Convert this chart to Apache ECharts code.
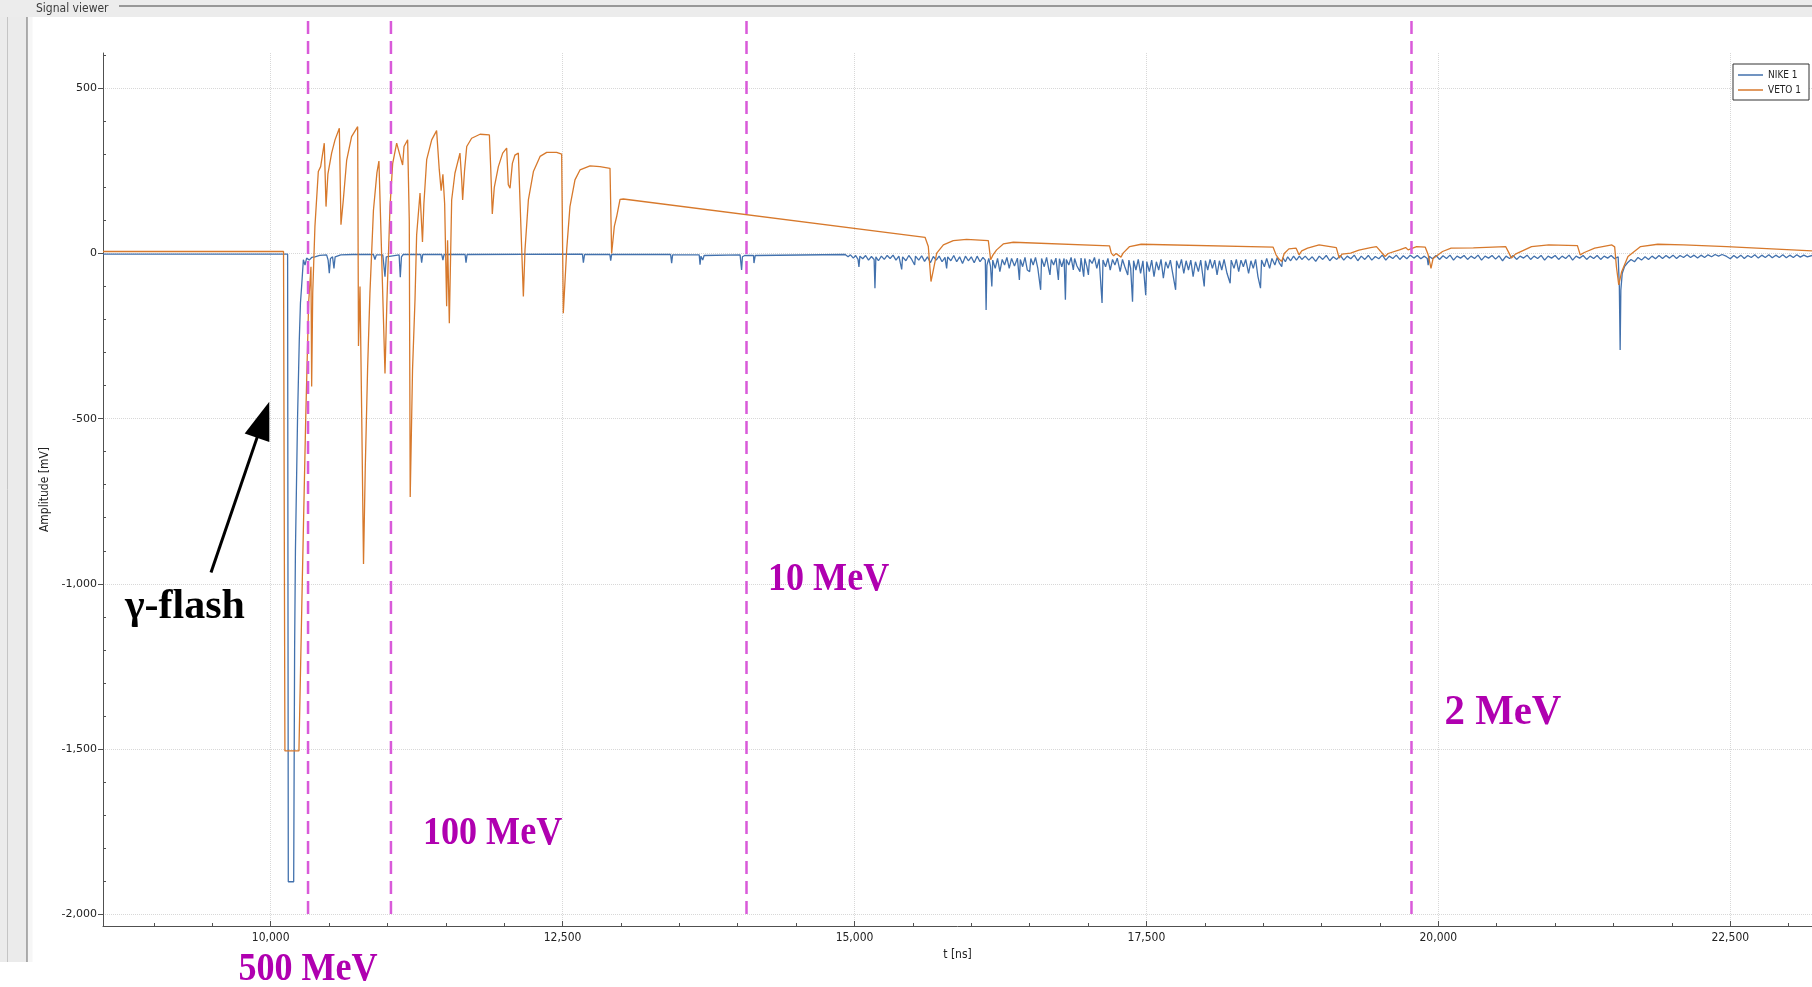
<!DOCTYPE html>
<html>
<head>
<meta charset="utf-8">
<title>Signal viewer</title>
<script src="https://cdn.jsdelivr.net/npm/echarts@6/dist/echarts.min.js"></script>
<style>
  html, body { margin: 0; padding: 0; background: #ffffff; }
  #chart { width: 1812px; height: 987px; }
</style>
</head>
<body>
<div id="chart"></div>
<script>
// ---- data -----------------------------------------------------------------
const seriesNames = ['NIKE 1', 'VETO 1'];
const timeRange = [8564, 23200];      // t [ns]
const ampRange = [-2036, 607];        // amplitude [mV]

// NIKE 1 trace: [t ns, amplitude mV]
const nike = [
  [8564,-2],[10145,-2],[10151,-1902],[10197,-1902],[10205,-1200],[10212,-900],[10230,-500],
  [10245,-262],[10255,-150],[10265,-100],[10280,-19],[10294,-35],[10308,-14],[10330,-20],
  [10351,-12],[10379,-10],[10420,-6],[10479,-4],[10492,-20],[10502,-60],[10512,-15],[10530,-10],
  [10542,-45],[10552,-10],[10600,-4],[10700,-3],[10880,-3],[10893,-18],[10905,-4],[10960,-4],
  [10979,-70],[10990,-10],[11000,-4],[11100,-4],[11110,-72],[11120,-10],[11135,-3],[11285,-3],
  [11293,-28],[11302,-3],[11465,-3],[11475,-20],[11485,-3],[11665,-3],[11673,-28],[11682,-3],
  [12670,-2],[12678,-28],[12688,-3],[12905,-3],[12912,-22],[12920,-3],[13425,-3],[13434,-29],
  [13442,-4],[13670,-4],[13677,-34],[13685,-8],[13700,-20],[13712,-6],[14020,-4],[14033,-50],
  [14040,-10],[14060,-6],[14135,-6],[14139,-29],[14150,-6],[14920,-3],
  [14945,-10],[14965,-4],[14990,-14],[15010,-6],[15030,-18],[15038,-41],[15046,-8],[15070,-16],
  [15095,-6],[15120,-20],[15145,-9],[15168,-18],[15175,-105],[15183,-10],[15205,-22],[15230,-8],
  [15255,-18],[15280,-6],[15305,-15],[15330,-5],[15355,-20],[15380,-8],[15404,-48],[15412,-10],
  [15440,-22],[15465,-6],[15490,-18],[15515,-35],[15522,-8],[15550,-20],[15575,-7],[15600,-24],
  [15625,-10],[15650,-28],[15675,-9],[15700,-20],[15725,-8],[15750,-25],[15775,-12],[15789,-45],
  [15798,-10],[15825,-22],[15850,-6],[15875,-25],[15900,-10],[15925,-30],[15950,-8],[15975,-22],
  [16000,-10],[16025,-28],[16050,-8],[16075,-25],[16100,-12],[16120,-20],[16127,-171],[16134,-35],
  [16150,-15],[16165,-40],[16176,-100],[16184,-20],[16205,-45],[16225,-15],[16245,-55],[16265,-18],
  [16285,-35],[16305,-12],[16325,-45],[16345,-15],[16370,-38],[16395,-14],[16412,-80],[16420,-18],
  [16440,-40],[16460,-12],[16480,-50],[16500,-55],[16510,-15],[16530,-35],[16550,-12],[16570,-45],
  [16594,-110],[16602,-15],[16625,-40],[16645,-12],[16665,-50],[16674,-65],[16685,-18],[16705,-35],
  [16725,-14],[16746,-80],[16755,-16],[16775,-40],[16795,-15],[16806,-140],[16814,-18],[16835,-35],
  [16855,-12],[16874,-50],[16885,-15],[16905,-38],[16931,-55],[16940,-14],[16963,-70],[16972,-15],
  [16990,-40],[17003,-65],[17012,-18],[17035,-30],[17055,-12],[17075,-45],[17095,-16],[17120,-150],
  [17128,-20],[17150,-40],[17170,-15],[17190,-50],[17210,-18],[17230,-35],[17250,-14],[17275,-55],
  [17295,-18],[17315,-40],[17340,-65],[17350,-20],[17365,-45],[17381,-146],[17390,-22],[17410,-50],
  [17430,-18],[17450,-60],[17470,-22],[17494,-126],[17503,-25],[17525,-55],[17545,-20],[17565,-70],
  [17585,-25],[17605,-50],[17625,-18],[17645,-75],[17665,-25],[17685,-45],[17705,-20],[17725,-60],
  [17750,-110],[17758,-22],[17780,-45],[17800,-18],[17820,-60],[17840,-22],[17860,-50],[17880,-20],
  [17900,-70],[17920,-25],[17945,-55],[17965,-20],[17995,-100],[18005,-22],[18025,-50],[18045,-18],
  [18065,-45],[18085,-20],[18105,-65],[18125,-22],[18145,-50],[18165,-18],[18190,-60],[18217,-90],
  [18226,-20],[18250,-45],[18270,-18],[18290,-55],[18310,-20],[18330,-40],[18350,-18],[18375,-60],
  [18395,-22],[18415,-45],[18435,-18],[18455,-70],[18477,-105],[18486,-20],[18510,-40],[18530,-15],
  [18555,-45],[18575,-15],[18600,-35],[18620,-12],[18640,-30],[18659,-40],[18668,-12],[18690,-25],
  [18710,-10],[18735,-22],[18760,-8],[18785,-20],[18810,-8],[18831,-18],
  [18860,-8],[18890,-20],[18920,-10],[18950,-24],[18980,-8],[19010,-18],[19040,-6],[19070,-22],
  [19100,-10],[19130,-18],[19160,-6],[19190,-20],[19220,-8],[19250,-16],[19280,-5],[19310,-22],
  [19340,-8],[19370,-18],[19400,-6],[19430,-20],[19460,-9],[19490,-16],[19520,-5],[19550,-20],
  [19580,-8],[19610,-15],[19640,-5],[19670,-18],[19700,-7],[19730,-16],[19760,-5],[19790,-14],
  [19820,-6],[19850,-16],[19880,-8],[19905,-15],[19913,-35],[19922,-8],[19950,-16],[19980,-6],
  [20010,-18],[20040,-7],[20070,-15],[20100,-5],[20130,-20],[20160,-8],[20190,-14],[20220,-6],
  [20250,-18],[20280,-8],[20310,-15],[20340,-5],[20370,-20],[20400,-8],[20430,-14],[20460,-6],
  [20490,-17],[20520,-7],[20550,-22],[20580,-8],[20610,-15],[20640,-6],[20670,-18],[20700,-8],
  [20730,-14],[20760,-5],[20790,-18],[20820,-8],[20850,-15],[20880,-6],[20910,-20],[20940,-8],
  [20970,-14],[21000,-6],[21030,-18],[21060,-8],[21090,-15],[21120,-5],[21150,-20],[21180,-8],
  [21210,-14],[21240,-6],[21270,-18],[21300,-8],[21330,-15],[21360,-6],[21390,-18],[21420,-8],
  [21450,-14],[21480,-6],[21510,-16],[21540,-10],[21550,-100],[21557,-292],[21563,-110],[21575,-60],
  [21594,-40],[21620,-28],[21650,-18],[21680,-25],[21710,-12],[21740,-20],[21770,-10],[21800,-18],
  [21830,-8],[21860,-16],[21890,-6],[21920,-15],[21950,-6],[21980,-14],[22010,-5],[22040,-15],
  [22070,-6],[22100,-12],[22130,-4],[22160,-12],[22190,-5],[22220,-14],[22250,-5],[22280,-12],
  [22310,-4],[22340,-10],[22370,-3],[22400,-8],[22430,-3],[22469,-9],[22500,-16],[22530,-6],
  [22560,-14],[22590,-5],[22620,-15],[22650,-6],[22680,-12],[22710,-4],[22740,-14],[22770,-5],
  [22800,-12],[22830,-4],[22860,-13],[22890,-5],[22920,-12],[22950,-4],[22980,-13],[23010,-5],
  [23040,-12],[23070,-4],[23100,-11],[23130,-5],[23160,-10],[23200,-6]
];

// VETO 1 trace: [t ns, amplitude mV]
const veto = [
  [8564,6],[10110,6],[10122,-1506],[10242,-1506],[10271,-988],[10300,-500],[10325,-150],[10345,-40],
  [10351,-403],[10360,-120],[10379,82],[10408,248],[10428,263],[10459,334],[10474,142],[10490,240],
  [10522,304],[10551,344],[10588,379],[10602,87],[10622,162],[10651,283],[10693,354],[10745,384],
  [10752,-280],[10765,-100],[10780,-500],[10795,-940],[10810,-650],[10830,-350],[10850,-120],
  [10880,130],[10910,245],[10927,280],[10945,60],[10979,-363],[10995,-150],[11022,142],[11045,273],
  [11079,334],[11102,304],[11130,268],[11142,324],[11173,344],[11187,100],[11195,-737],[11215,-350],
  [11236,-140],[11250,56],[11279,183],[11300,35],[11312,150],[11336,284],[11379,344],[11421,372],
  [11444,253],[11460,190],[11475,240],[11490,150],[11507,-160],[11515,40],[11530,-211],[11550,162],
  [11578,243],[11621,304],[11636,223],[11644,162],[11660,250],[11679,324],[11721,349],[11793,361],
  [11873,359],[11884,263],[11898,120],[11915,200],[11950,263],[11987,304],[12021,319],[12035,208],
  [12050,198],[12070,273],[12092,298],[12121,304],[12135,162],[12164,-130],[12178,11],[12207,162],
  [12250,248],[12307,294],[12364,306],[12449,306],[12492,301],[12506,-181],[12535,11],[12563,142],
  [12606,223],[12649,253],[12735,265],[12820,263],[12906,258],[12920,0],[12943,82],[12963,112],
  [12992,164],[13020,165],[15604,49],[15632,21],[15655,-85],[15675,-50],[15704,1],[15761,26],
  [15846,39],[15960,43],[16146,39],[16166,-19],[16185,-5],[16217,11],[16274,29],[16360,34],
  [17184,23],[17199,1],[17219,-7],[17240,0],[17282,-11],[17300,1],[17356,21],[17455,28],
  [18585,19],[18610,-4],[18635,-17],[18659,-24],[18680,0],[18720,14],[18782,16],[18807,-4],
  [18830,8],[18880,16],[18979,26],[19126,18],[19151,-14],[19175,-2],[19249,1],[19320,10],
  [19420,18],[19470,21],[19544,-9],[19570,0],[19667,11],[19720,18],[19741,11],[19780,16],
  [19814,21],[19888,19],[19913,-4],[19937,-45],[19955,-15],[20036,6],[20109,16],[20300,17],
  [20576,21],[20600,5],[20626,-14],[20660,-2],[20798,21],[20945,26],[21191,24],[21215,-4],
  [21250,3],[21339,16],[21486,26],[21510,20],[21525,-40],[21545,-95],[21570,-55],[21624,-9],
  [21732,21],[21879,28],[22100,26],[22469,21],[23200,8]
];

// neutron energy markers (time of flight)
const energyTimes = [10320, 11030, 14075, 19770];
const energyLabels = ['500 MeV', '100 MeV', '10 MeV', '2 MeV'];

// ---- layout of annotations (data units) ----------------------------------
const markerSpan = [704, -2015];                 // vertical extent of the dashed markers
const energyLabelAnchors = [                     // [t, mV, align, fontSize, scaleX]
  [10320, -2166, 'center', 41, 0.88],
  [11304, -1755, 'left', 41, 0.88],
  [14259, -988, 'left', 41, 0.88],
  [20053, -1390, 'left', 43, 0.95]
];
const flashLabelAnchor = [8752, -1070];
const flashArrow = { tail: [9489, -966], tip: [9988, -449] };

// ---- chart -----------------------------------------------------------------
const fmt = v => Math.round(v).toLocaleString('en-US');
const minorX = [];
for (let t = 9000; t <= 23000; t += 500) if (t % 2500) minorX.push(t);
const minorY = [];
for (let v = -2000; v <= 600; v += 100) if (v % 500) minorY.push(v);

const axisColor = '#505050';
const gridLine = {
  show: true, showMinLine: false, showMaxLine: false,
  lineStyle: { color: '#d8d8d8', type: 'dotted', width: 1 }
};

const chart = echarts.init(document.getElementById('chart'), null, { renderer: 'canvas' });

chart.setOption({
  animation: false,
  backgroundColor: '#ffffff',
  grid: { left: 103, top: 53, right: 0, bottom: 61, containLabel: false },
  legend: {
    data: seriesNames,
    orient: 'vertical',
    right: 3, top: 64,
    padding: [6, 8, 5, 5],
    itemGap: 5,
    itemWidth: 25, itemHeight: 1.5,
    icon: 'rect',
    backgroundColor: '#ffffff',
    borderColor: '#333333', borderWidth: 1, borderRadius: 0,
    textStyle: { fontFamily: 'DejaVu Sans Condensed, DejaVu Sans', fontSize: 10, color: '#222' },
    selectedMode: false
  },
  xAxis: [{
    type: 'value',
    min: timeRange[0], max: timeRange[1],
    minInterval: 2500, maxInterval: 2500,
    name: 't [ns]', nameLocation: 'middle', nameGap: 23,
    nameTextStyle: { fontFamily: 'DejaVu Sans Condensed, DejaVu Sans', fontSize: 12, color: '#222' },
    axisLine: { show: true, onZero: false, lineStyle: { color: axisColor, width: 1 } },
    axisTick: { show: true, inside: true, length: 5, lineStyle: { color: axisColor } },
    axisLabel: {
      showMinLabel: false, showMaxLabel: false, margin: 6,
      fontFamily: 'DejaVu Sans Condensed, DejaVu Sans', fontSize: 12, color: '#222',
      formatter: fmt
    },
    splitLine: gridLine
  }, {
    // minor ticks
    type: 'value', position: 'bottom',
    min: timeRange[0], max: timeRange[1],
    axisLine: { show: false, onZero: false }, axisLabel: { show: false }, splitLine: { show: false },
    axisTick: { show: true, inside: true, length: 3, customValues: minorX, lineStyle: { color: axisColor } }
  }],
  yAxis: [{
    type: 'value',
    min: ampRange[0], max: ampRange[1],
    minInterval: 500, maxInterval: 500,
    name: 'Amplitude [mV]', nameLocation: 'middle', nameGap: 51, nameRotate: 90,
    nameTextStyle: { fontFamily: 'DejaVu Sans Condensed, DejaVu Sans', fontSize: 12, color: '#222' },
    axisLine: { show: true, onZero: false, lineStyle: { color: axisColor, width: 1 } },
    axisTick: { show: true, inside: false, length: 5, lineStyle: { color: axisColor } },
    axisLabel: {
      showMinLabel: false, showMaxLabel: false, margin: 6,
      fontFamily: 'DejaVu Sans', fontSize: 11, color: '#222',
      formatter: fmt
    },
    splitLine: gridLine
  }, {
    // minor ticks
    type: 'value', position: 'left',
    min: ampRange[0], max: ampRange[1],
    axisLine: { show: false, onZero: false }, axisLabel: { show: false }, splitLine: { show: false },
    axisTick: { show: true, inside: true, length: 3, customValues: minorY, lineStyle: { color: axisColor } }
  }],
  series: [{
    name: seriesNames[0], type: 'line', data: nike,
    xAxisIndex: 0, yAxisIndex: 0,
    showSymbol: false, symbol: 'none', silent: true, z: 3,
    lineStyle: { color: '#4271ad', width: 1.3 },
    itemStyle: { color: '#4271ad' }
  }, {
    name: seriesNames[1], type: 'line', data: veto,
    xAxisIndex: 0, yAxisIndex: 0,
    showSymbol: false, symbol: 'none', silent: true, z: 4,
    lineStyle: { color: '#d7792c', width: 1.3 },
    itemStyle: { color: '#d7792c' }
  }]
});

// ---- overlay: window frame, energy markers, gamma-flash arrow ------------
const px = (t, v) => chart.convertToPixel({ xAxisIndex: 0, yAxisIndex: 0 }, [t, v]);
const W = 1812, frameBottom = 962;
const graphics = [
  { type: 'rect', shape: { x: 0, y: 0, width: W, height: 17 }, style: { fill: '#ececec' }, z: 100 },
  { type: 'rect', shape: { x: 0, y: 17, width: 27, height: frameBottom - 17 }, style: { fill: '#ebebeb' }, z: 100 },
  { type: 'rect', shape: { x: 27.5, y: 17, width: 5, height: frameBottom - 17 }, style: { fill: '#f6f6f6' }, z: 100 },
  { type: 'line', shape: { x1: 7.5, y1: 17, x2: 7.5, y2: frameBottom }, style: { stroke: '#c4c4c4', lineWidth: 1 }, z: 101 },
  { type: 'line', shape: { x1: 27, y1: 17, x2: 27, y2: frameBottom }, style: { stroke: '#7c7c7c', lineWidth: 1.2 }, z: 101 },
  { type: 'line', shape: { x1: 119, y1: 6, x2: W, y2: 6 }, style: { stroke: '#7c7c7c', lineWidth: 1.5 }, z: 101 },
  { type: 'text', x: 36, y: 9, style: { text: 'Signal viewer', fill: '#3a3a3a', font: '12px "DejaVu Sans Condensed", "DejaVu Sans"', verticalAlign: 'middle', align: 'left' }, z: 101 }
];

energyTimes.forEach((t, i) => {
  const a = px(t, markerSpan[0]), b = px(t, markerSpan[1]);
  graphics.push({
    type: 'line', shape: { x1: a[0], y1: a[1], x2: b[0], y2: b[1] },
    style: { stroke: '#d95ad9', lineWidth: 2.5, lineDash: [13, 7] }, z: 50
  });
  const [lt, lv, align, size, sx] = energyLabelAnchors[i];
  const p = px(lt, lv);
  graphics.push({
    type: 'text', x: p[0], y: p[1], scaleX: sx, scaleY: 1,
    style: {
      text: energyLabels[i], fill: '#b000b0',
      font: 'bold ' + size + 'px "Liberation Serif", "Times New Roman", serif',
      align: align, verticalAlign: 'middle'
    }, z: 60
  });
});

// gamma-flash arrow
(function () {
  const tail = px(flashArrow.tail[0], flashArrow.tail[1]);
  const tip = px(flashArrow.tip[0], flashArrow.tip[1]);
  const dx = tip[0] - tail[0], dy = tip[1] - tail[1];
  const len = Math.hypot(dx, dy), ux = dx / len, uy = dy / len;
  const headLen = 38, halfW = 13;
  const bx = tip[0] - ux * headLen, by = tip[1] - uy * headLen;
  graphics.push({
    type: 'line', shape: { x1: tail[0], y1: tail[1], x2: bx + ux * 2, y2: by + uy * 2 },
    style: { stroke: '#000', lineWidth: 3 }, z: 60
  });
  graphics.push({
    type: 'polygon',
    shape: { points: [tip, [bx - uy * halfW, by + ux * halfW], [bx + uy * halfW, by - ux * halfW]] },
    style: { fill: '#000' }, z: 60
  });
  const lp = px(flashLabelAnchor[0], flashLabelAnchor[1]);
  graphics.push({
    type: 'text', x: lp[0], y: lp[1],
    style: {
      text: 'γ-flash', fill: '#000',
      font: 'bold 42px "Liberation Serif", "Times New Roman", serif',
      align: 'left', verticalAlign: 'middle'
    }, z: 60
  });
})();

chart.setOption({ graphic: { elements: graphics } });
</script>
</body>
</html>
